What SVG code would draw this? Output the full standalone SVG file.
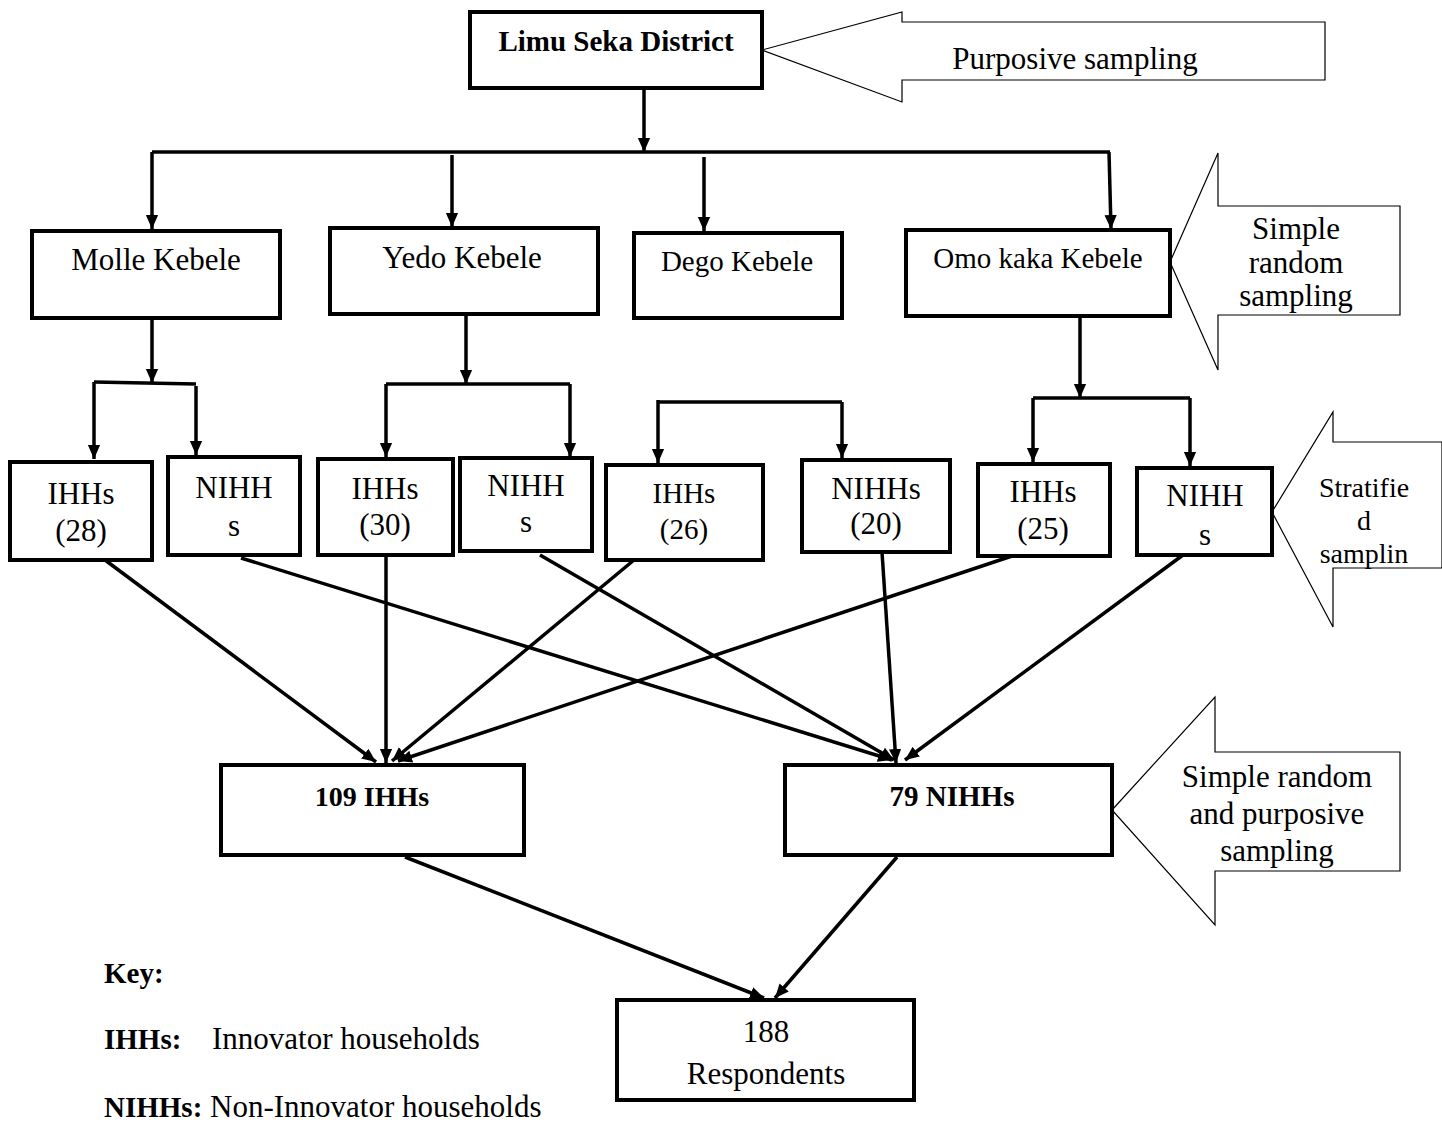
<svg xmlns="http://www.w3.org/2000/svg" width="1442" height="1122" viewBox="0 0 1442 1122">
<style>
.box{fill:#fff;stroke:#000;stroke-width:4}
.t{font-family:"Liberation Serif","Times New Roman",serif;font-size:31px;fill:#000;text-anchor:middle}
.b{font-weight:bold}
.l{text-anchor:start}
.c{fill:none;stroke:#000;stroke-width:3.5}
.blk{fill:#fff;stroke:#000;stroke-width:1.2}
</style>
<defs>
<marker id="ah" markerUnits="userSpaceOnUse" markerWidth="14" markerHeight="16" refX="16" refY="7" orient="auto" viewBox="0 0 16 14">
<path d="M0,0 L16,7 L0,14 z" fill="#000"/>
</marker>
</defs>
<rect width="1442" height="1122" fill="#fff"/>

<g id="purposive-arrow">
<path class="blk" d="M762,50 L902,12 L902,22 L1325,22 L1325,80 L902,80 L902,102 Z"/>
<text class="t" x="1075" y="69">Purposive sampling</text>
</g>
<g id="srs-arrow">
<path class="blk" d="M1170,262 L1218,153 L1218,206 L1400,206 L1400,315 L1218,315 L1218,370 Z"/>
<text class="t" x="1296" y="239">Simple</text>
<text class="t" x="1296" y="273">random</text>
<text class="t" x="1296" y="306">sampling</text>
</g>
<g id="stratified-arrow">
<path class="blk" d="M1272,512 L1333,412 L1333,442 L1442,442 L1442,568 L1333,568 L1333,627 Z"/>
<text class="t" x="1364" y="497" style="font-size:28px">Stratifie</text>
<text class="t" x="1364" y="530" style="font-size:28px">d</text>
<text class="t" x="1364" y="563" style="font-size:28px">samplin</text>
</g>
<g id="srp-arrow">
<path class="blk" d="M1112,810 L1215,697 L1215,752 L1400,752 L1400,871 L1215,871 L1215,925 Z"/>
<text class="t" x="1277" y="787">Simple random</text>
<text class="t" x="1277" y="824">and purposive</text>
<text class="t" x="1277" y="861">sampling</text>
</g>

<g id="connectors">
<path class="c" d="M644,88 L644,152" marker-end="url(#ah)"/>
<path class="c" d="M152,152 L1110,152"/>
<path class="c" d="M152,152 L152,229" marker-end="url(#ah)"/>
<path class="c" d="M452,155 L452,227" marker-end="url(#ah)"/>
<path class="c" d="M704,157 L704,231" marker-end="url(#ah)"/>
<path class="c" d="M1109,152 L1111,229" marker-end="url(#ah)"/>

<path class="c" d="M152,318 L152,383" marker-end="url(#ah)"/>
<path class="c" d="M94,382 L196,384"/>
<path class="c" d="M94,382 L94,459" marker-end="url(#ah)"/>
<path class="c" d="M196,386 L196,455" marker-end="url(#ah)"/>

<path class="c" d="M466,314 L466,384" marker-end="url(#ah)"/>
<path class="c" d="M386,384 L570,384"/>
<path class="c" d="M386,384 L386,457" marker-end="url(#ah)"/>
<path class="c" d="M570,384 L570,457" marker-end="url(#ah)"/>

<path class="c" d="M658,402 L842,402"/>
<path class="c" d="M658,400 L658,463" marker-end="url(#ah)"/>
<path class="c" d="M842,402 L842,458" marker-end="url(#ah)"/>

<path class="c" d="M1080,316 L1080,398" marker-end="url(#ah)"/>
<path class="c" d="M1033,398 L1190,398"/>
<path class="c" d="M1033,398 L1033,462" marker-end="url(#ah)"/>
<path class="c" d="M1190,398 L1190,466" marker-end="url(#ah)"/>

<path class="c" d="M105,560 L376,762" marker-end="url(#ah)"/>
<path class="c" d="M386,555 L386,763" marker-end="url(#ah)"/>
<path class="c" d="M634,560 L392,761" marker-end="url(#ah)"/>
<path class="c" d="M1012,556 L398,761" marker-end="url(#ah)"/>

<path class="c" d="M241,558 L892,760" marker-end="url(#ah)"/>
<path class="c" d="M540,555 L894,760" marker-end="url(#ah)"/>
<path class="c" d="M882,552 L896,763" marker-end="url(#ah)"/>
<path class="c" d="M1183,555 L905,760" marker-end="url(#ah)"/>

<path class="c" d="M405,857 L764,998" marker-end="url(#ah)"/>
<path class="c" d="M897,857 L775,998" marker-end="url(#ah)"/>
</g>

<g id="limu-seka">
<rect class="box" x="470" y="12" width="292" height="76"/>
<text class="t b" x="616" y="51" style="font-size:29px">Limu Seka District</text>
</g>

<g id="molle">
<rect class="box" x="32" y="231" width="248" height="87"/>
<text class="t" x="156" y="270">Molle Kebele</text>
</g>
<g id="yedo">
<rect class="box" x="330" y="228" width="268" height="86"/>
<text class="t" x="462" y="268">Yedo Kebele</text>
</g>
<g id="dego">
<rect class="box" x="634" y="233" width="208" height="85"/>
<text class="t" x="737" y="271" style="font-size:29px">Dego Kebele</text>
</g>
<g id="omo">
<rect class="box" x="906" y="230" width="264" height="86"/>
<text class="t" x="1038" y="268" style="font-size:29px">Omo kaka Kebele</text>
</g>

<g id="ihhs-28">
<rect class="box" x="10" y="462" width="142" height="98"/>
<text class="t" x="81" y="504">IHHs</text>
<text class="t" x="81" y="541">(28)</text>
</g>
<g id="nihhs-molle">
<rect class="box" x="168" y="457" width="132" height="98"/>
<text class="t" x="234" y="498">NIHH</text>
<text class="t" x="234" y="536">s</text>
</g>
<g id="ihhs-30">
<rect class="box" x="318" y="459" width="135" height="96"/>
<text class="t" x="385" y="499">IHHs</text>
<text class="t" x="385" y="535">(30)</text>
</g>
<g id="nihhs-yedo">
<rect class="box" x="460" y="458" width="132" height="93"/>
<text class="t" x="526" y="496">NIHH</text>
<text class="t" x="526" y="532">s</text>
</g>
<g id="ihhs-26">
<rect class="box" x="606" y="465" width="157" height="95"/>
<text class="t" x="684" y="503" style="font-size:29px">IHHs</text>
<text class="t" x="684" y="539" style="font-size:29px">(26)</text>
</g>
<g id="nihhs-20">
<rect class="box" x="802" y="460" width="148" height="92"/>
<text class="t" x="876" y="499">NIHHs</text>
<text class="t" x="876" y="534">(20)</text>
</g>
<g id="ihhs-25">
<rect class="box" x="978" y="464" width="132" height="92"/>
<text class="t" x="1043" y="502">IHHs</text>
<text class="t" x="1043" y="539">(25)</text>
</g>
<g id="nihhs-omo">
<rect class="box" x="1137" y="468" width="135" height="87"/>
<text class="t" x="1205" y="506">NIHH</text>
<text class="t" x="1205" y="545">s</text>
</g>

<g id="ihhs-109">
<rect class="box" x="221" y="765" width="303" height="90"/>
<text class="t b" x="372" y="806" style="font-size:28px">109 IHHs</text>
</g>
<g id="nihhs-79">
<rect class="box" x="785" y="765" width="327" height="90"/>
<text class="t b" x="952" y="806" style="font-size:29px">79 NIHHs</text>
</g>

<g id="respondents">
<rect class="box" x="617" y="1000" width="297" height="100"/>
<text class="t" x="766" y="1042">188</text>
<text class="t" x="766" y="1084">Respondents</text>
</g>

<g id="key">
<text class="t b l" x="104" y="983" style="font-size:29px">Key:</text>
<text class="t l" x="104" y="1049"><tspan class="b" style="font-size:29px">IHHs:</tspan><tspan x="212">Innovator households</tspan></text>
<text class="t l" x="104" y="1117"><tspan class="b" style="font-size:29px">NIHHs:</tspan><tspan> Non-Innovator households</tspan></text>
</g>
</svg>
